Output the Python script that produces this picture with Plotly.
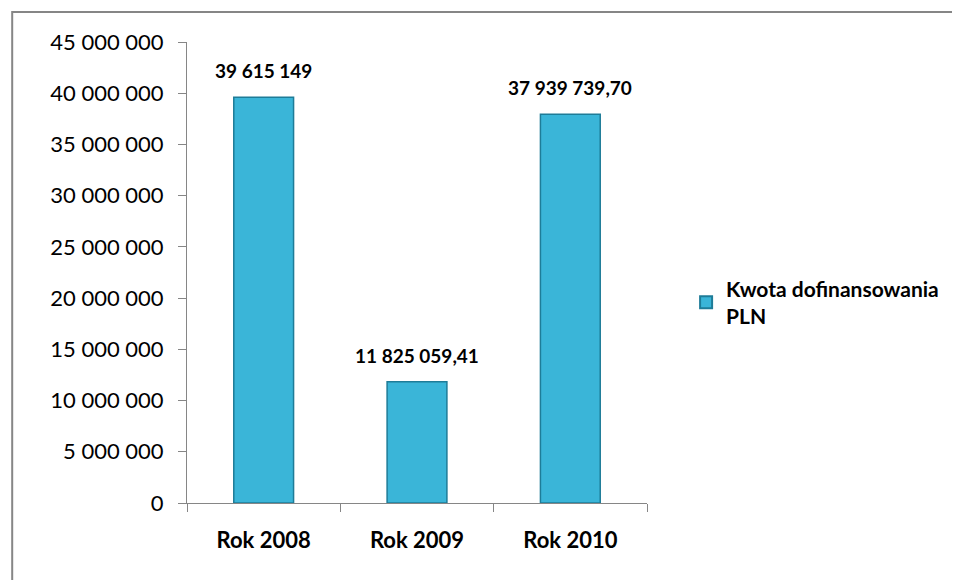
import plotly.graph_objects as go

categories = ["Rok 2008", "Rok 2009", "Rok 2010"]
values = [39615149, 11825059.41, 37939739.70]
value_labels = ["39 615 149", "11 825 059,41", "37 939 739,70"]
series_name = "Kwota dofinansowania<br>PLN"
y_ticks = [0, 5000000, 10000000, 15000000, 20000000, 25000000, 30000000, 35000000, 40000000, 45000000]
y_tick_labels = ["0", "5 000 000", "10 000 000", "15 000 000", "20 000 000", "25 000 000",
                 "30 000 000", "35 000 000", "40 000 000", "45 000 000"]

FONT = "Lato"
x_cats = [f"<b>{c}</b>" for c in categories]

fig = go.Figure()
fig.add_trace(go.Bar(
    x=x_cats,
    y=values,
    name=f"<b>{series_name}</b>",
    width=0.39,
    marker=dict(color="#3AB5D8", line=dict(color="#1E7C98", width=1.5)),
))

annotations = [
    dict(x=xc, y=v, xref="x", yref="y", text=f"<b>{t}</b>", showarrow=False,
         yanchor="bottom", yshift=13, font=dict(family=FONT, size=19, color="#000000"))
    for xc, v, t in zip(x_cats, values, value_labels)
]

fig.update_layout(
    width=960, height=580,
    margin=dict(l=179, r=320.5, t=34, b=85),
    paper_bgcolor="white", plot_bgcolor="white",
    font=dict(family=FONT, size=18, color="#000000"),
    showlegend=True,
    legend=dict(x=1.085, y=0.435, xanchor="left", yanchor="middle",
                font=dict(family=FONT, size=21, color="#000000"),
                itemsizing="constant", bgcolor="rgba(0,0,0,0)"),
    xaxis=dict(showline=True, linecolor="#868686", linewidth=1,
               ticks="outside", tickson="boundaries", ticklen=8, tickcolor="#868686",
               tickfont=dict(family=FONT, size=22, color="#000000"),
               showgrid=False, zeroline=False, ticklabelstandoff=18),
    yaxis=dict(range=[0, 45000000], tickvals=y_ticks, ticktext=y_tick_labels,
               showline=True, linecolor="#868686", linewidth=1,
               ticks="outside", ticklen=8, tickcolor="#868686",
               tickfont=dict(family=FONT, size=22, color="#000000"),
               showgrid=False, zeroline=False, ticklabelstandoff=10),
    annotations=annotations,
    shapes=[dict(type="rect", xref="paper", yref="paper",
                 x0=-0.38, y0=-0.5, x1=1.8, y1=1.065,
                 line=dict(color="#868686", width=2), fillcolor="rgba(0,0,0,0)", layer="below")],
)

fig.write_html("out.html")
